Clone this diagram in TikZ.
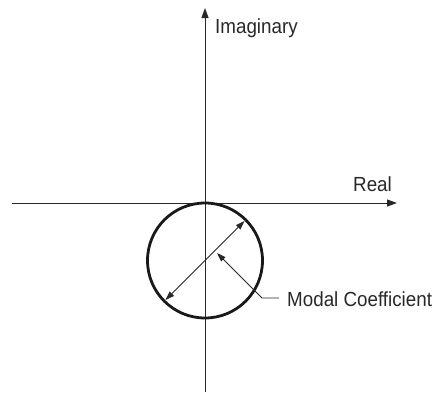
\documentclass[tikz,border=0pt]{standalone}
\usepackage{fontspec}
\setmainfont{Liberation Sans}[FakeStretch=0.92]
\usepackage{xcolor}
\definecolor{axisgray}{RGB}{40,40,40}
\usepackage{tikz}
\usetikzlibrary{arrows.meta, positioning, calc}

\begin{document}
\begin{tikzpicture}[
  x=1bp, y=-1bp,
  axis/.style={draw=axisgray, line width=1bp, -{Triangle[length=10bp, width=7bp]}},
  pointer/.style={draw=axisgray, line width=0.9bp},
  lbl/.style={inner sep=0pt, anchor=base west, text=axisgray, font=\fontsize{20.5}{24}\selectfont}
]
  \useasboundingbox (0,0) rectangle (438,392);
  % axes
  \coordinate (imlow) at (205,392);
  \coordinate (imtop) at (205,8);
  \coordinate (releft) at (12,203);
  \coordinate (reright) at (397,203);
  \draw[axis] (imlow) -- (imtop);
  \draw[axis] (releft) -- (reright);
  \node[lbl] (imag) at (215,33) {Imaginary};
  \node[lbl] (real) at (353,191) {Real};
  % circle and its diameter
  \node[circle, draw=black!90, line width=2.8bp, minimum size=115bp, inner sep=0pt] (modal) at (205,260.5) {};
  \draw[pointer, {Triangle[length=9bp, width=6bp]}-{Triangle[length=9bp, width=6bp]}, shorten <=3bp, shorten >=3bp]
    (modal.225) -- (modal.45);
  % leader to the label
  \coordinate (tip) at (217,253);
  \coordinate (bend) at (262,298);
  \node[lbl] (coef) at (287,306) {Modal Coefficient};
  \draw[pointer, {Triangle[length=9bp, width=6bp]}-] (tip) -- (bend) -- ([xshift=-8bp]bend -| coef.west);
\end{tikzpicture}
\end{document}
